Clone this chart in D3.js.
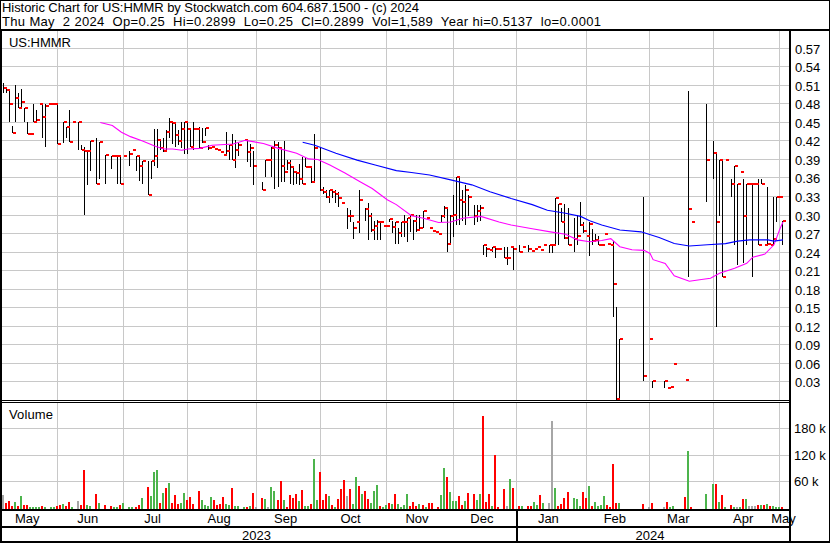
<!DOCTYPE html>
<html><head><meta charset="utf-8">
<script src="https://cdn.jsdelivr.net/npm/d3@7"></script>
<style>
html,body{margin:0;padding:0;background:#fff;}
svg{display:block;font-family:"Liberation Sans",Arial,sans-serif;}
</style></head><body><svg id="c" width="830" height="543"></svg>
<script>
const _ = null;
const headerLines = [
  "Historic Chart for US:HMMR by Stockwatch.com 604.687.1500 - (c) 2024",
  "Thu May  2 2024  Op=0.25  Hi=0.2899  Lo=0.25  Cl=0.2899  Vol=1,589  Year hi=0.5137  lo=0.0001"
];
const symbolLabel = "US:HMMR";
const volumeLabel = "Volume";
const firstDay = new Date(2023, 4, 8), lastDay = new Date(2024, 4, 2);
const priceTicks = [0.03,0.06,0.09,0.12,0.15,0.18,0.21,0.24,0.27,0.30,0.33,0.36,0.39,0.42,0.45,0.48,0.51,0.54,0.57];
const volumeTicksK = [60,120,180];

const closes = [.504,.502,.478,.432,.488,.473,.482,.472,.431,.431,
 .449,.453,.478,.458,.476,.478,.478,.478,.414,_,
 .449,.441,.418,.449,_,.449,.405,.402,.403,.419,
 _,.349,.418,_,.397,_,.394,.394,.394,.349,
 .394,_,.398,.405,.394,.379,.386,_,.332,.386,
 .395,.421,.408,.403,.434,.45,.448,.429,.419,.438,
 .449,.438,.409,.438,.438,.407,.418,.44,.408,.41,
 .406,.404,.401,.397,.403,.412,.388,.405,.412,_,
 .42,.401,.408,.379,_,_,.339,.388,.388,.408,
 .412,.408,.379,.368,.383,.377,.368,.367,.358,.35,
 .377,.377,.353,.408,_,.339,.337,.329,.339,.337,
 .333,.326,.318,_,.298,.298,.279,.288,.324,_,
 .309,.298,.275,.282,.288,.288,.282,.282,.293,.28,
 .288,.27,.288,.288,.294,.299,.289,.275,.279,.305,
 .294,.278,.274,.272,.268,.298,.31,.253,.297,.30,
 .361,.324,.32,.339,.329,_,.298,.306,.31,.25,
 .245,.242,.248,.245,.244,_,.229,.229,.248,.245,
 _,.24,.248,_,.245,.241,.245,.248,.243,.25,
 _,.25,.25,.326,.317,.288,.262,.25,_,.261,
 .266,.283,.273,.266,.285,.257,.258,.251,.251,.268,
 .252,.251,.187,.0001,.098,_,_,_,_,_,
 _,_,.039,_,.098,.03,_,_,_,.03,
 .02,.021,.058,_,_,_,.033,.309,.288,_,
 _,_,_,.388,_,.399,.288,.388,.199,.388,
 _,.349,.379,.349,.369,.298,.349,.349,.349,.349,
 .25,.349,.25,.252,.25,.26,.329,.329,.2899];

const highs = [.513,.505,.502,.443,.51,.497,.503,.473,.449,_,
 .479,.469,_,.478,.478,_,_,_,.478,_,
 .449,.441,.469,_,_,.449,.413,.409,.405,.419,
 _,.424,.418,_,.397,_,.394,_,.394,.394,
 _,_,.402,_,.394,.394,.386,_,.386,.386,
 .438,.439,.422,.423,.436,.456,.45,.45,.436,.45,
 .45,.449,.438,.449,_,.442,.44,.44,.412,_,
 _,_,_,_,.434,.412,.431,.42,.415,_,
 _,.419,.414,.403,_,_,.352,.388,_,.41,
 .419,.418,.406,.419,.388,.389,.377,.369,.381,.393,
 .392,_,.377,.43,_,.41,.345,.34,.34,.34,
 .34,.336,_,_,.31,.307,.288,_,.34,_,
 .31,.318,.302,.29,.291,.288,_,_,.293,.29,
 .288,.278,.288,.299,.294,.299,.291,.299,.299,.305,
 _,_,_,_,_,.299,.313,.31,.30,.332,
 .361,.361,.34,.348,.332,_,.316,.316,.316,.25,
 .248,_,.248,.248,_,_,.248,.248,_,.248,
 _,.25,_,_,.25,_,_,_,_,_,
 _,.25,.25,.327,.317,.31,.317,.31,_,.294,
 .3,.321,.288,_,.288,.277,.268,.266,_,_,
 _,_,.257,.15,.098,_,_,_,_,_,
 _,_,.329,_,_,.03,_,_,_,.03,
 _,_,_,_,_,_,_,.50,_,_,
 _,_,_,.479,_,.419,.399,.388,.388,_,
 _,.358,.379,.349,_,.358,.349,_,.349,_,
 .358,.358,_,.345,_,.329,.329,_,.2899];

const lows = [.497,.497,.449,.432,.449,.472,.473,.449,.431,_,
 .449,.452,_,.423,.409,_,_,_,.414,_,
 .416,.424,.418,_,_,.405,.405,.30,.348,.37,
 _,.349,.357,_,.349,_,.373,_,.349,.349,
 _,_,.378,_,.37,.355,.349,_,.332,.357,
 .378,.375,.405,.401,.401,.424,.414,.41,.412,.408,
 .398,.398,.409,.405,_,.407,.415,.427,.405,_,
 _,_,_,_,.396,.389,.388,.375,.394,_,
 _,.385,.377,.348,_,_,.339,.36,_,.361,
 .341,.345,.353,.353,.372,.35,.348,.35,.348,.35,
 .377,_,.351,.353,_,.338,.334,.326,.318,.326,
 .318,.312,_,_,.277,.288,.26,_,.27,_,
 .29,.259,.271,.259,.259,.259,_,_,.288,.27,
 .253,.253,.264,.264,.256,.272,.258,.272,.275,.278,
 _,_,_,_,_,.288,.294,.24,.25,.264,
 .283,.283,.29,.283,.297,_,.283,.288,.29,.234,
 .232,_,.24,.229,_,_,.229,.218,_,.21,
 _,.24,_,_,.24,_,_,_,_,_,
 _,.237,.237,.25,.25,.288,.26,.25,_,.24,
 .25,.281,.27,_,.233,.251,.255,.251,_,_,
 _,_,.134,.0001,.0001,_,_,_,_,_,
 _,_,.03,_,_,.02,_,_,_,.02,
 _,_,_,_,_,_,_,.199,_,_,
 _,_,_,.321,_,.358,.118,.298,.199,_,
 _,.329,.251,.218,_,.221,.251,_,.199,_,
 .25,.349,_,.251,_,.25,.288,_,.25];

const volumeK = [29,11.2,14.9,3,12.6,3,26,6.7,6.7,1.5,
 1.5,1.5,1.5,3.7,1.5,_,1.5,1.5,3.7,6.7,
 8.9,3,13.4,1.5,_,14.9,6.7,84.7,6.7,3,
 _,31.2,11.2,_,6.7,_,3.7,1.5,1.5,6.7,
 11.2,_,1.5,1.5,1.5,6.7,22.3,_,46.1,25.3,
 81.7,84.7,11.2,33.5,44.6,55,11.2,27.5,8.9,11.2,
 33.5,17.8,23.8,8.9,_,37.9,16.4,6.7,3,23.8,
 16.4,6.7,8.9,23.8,8.9,6.7,44.6,3,3.7,_,
 1.5,1.5,3.7,33.5,1.5,_,22.3,20.1,1.5,46.1,
 37.9,17.8,59.5,17.8,1.5,27.5,21.6,31.2,14.9,39.4,
 3.7,3.7,8.9,109.3,17.8,80.3,17.8,31.2,26,6.7,
 1.5,20.1,42.4,62.5,26.8,42.4,8.9,68.4,49.1,31.2,
 37.9,19.3,10.4,37.9,51.3,3.7,1.5,6.7,11.2,8.9,
 31.2,8.9,1.5,6.7,31.2,3.7,13.4,3.7,8.9,6.7,
 1.5,11.2,11.2,_,1.5,29,90.7,68.4,35.7,14.9,
 14.9,26.8,6.7,14.9,33.5,_,31.2,17.8,31.2,207.4,
 13.4,31.2,3.7,118.2,1.5,_,42.4,3.7,63.9,44.6,
 _,3.7,3.7,_,3.7,3.7,12.6,6.7,29,11.2,
 _,11.2,196.3,44.6,4.5,8.9,21.6,35.7,_,22.3,
 20.1,3.7,35.7,22.3,49.1,3,13.4,3.7,6.7,26.8,
 6.7,1.5,98,11.2,11.2,_,_,_,_,_,
 _,_,8.9,_,1.5,11.2,_,_,_,1.5,
 12.6,1.5,3.7,_,_,_,23.8,127.6,1.5,_,
 _,_,_,31.2,_,53.5,53.5,12.6,29,1.5,
 _,6.7,1.5,1.5,1.5,19.3,19.3,3.7,3.7,3.7,
 6.7,6.7,6.7,8.9,3.7,3.7,1.5,1.5,1.589];

// 1 = close up, -1 = close down, 0 = unchanged
const volumeDir = [0,-1,-1,-1,1,-1,1,-1,-1,1,
 1,1,1,-1,1,_,1,1,-1,-1,
 1,-1,-1,1,_,0,-1,-1,1,1,
 _,-1,1,_,-1,_,-1,1,1,-1,
 1,_,1,1,-1,-1,1,_,-1,1,
 1,1,-1,1,-1,1,-1,-1,-1,1,
 1,-1,-1,-1,_,-1,1,1,1,1,
 -1,-1,-1,-1,1,1,-1,1,1,_,
 1,-1,1,-1,0,_,-1,1,0,1,
 1,-1,-1,1,-1,-1,-1,-1,1,-1,
 1,1,-1,1,1,-1,-1,-1,1,-1,
 1,-1,-1,-1,0,-1,1,1,-1,1,
 -1,-1,1,1,1,-1,1,1,-1,1,
 -1,1,1,1,1,-1,-1,-1,1,-1,
 1,-1,-1,_,-1,1,1,-1,1,1,
 1,-1,-1,1,-1,_,-1,1,1,-1,
 -1,-1,1,-1,-1,_,-1,0,1,-1,
 _,-1,1,_,-1,-1,1,1,-1,1,
 _,0,0,1,-1,-1,-1,-1,_,1,
 1,1,-1,-1,1,-1,1,1,1,1,
 -1,-1,-1,-1,1,_,_,_,_,_,
 _,_,-1,_,0,-1,_,_,_,0,
 -1,1,1,_,_,_,-1,1,-1,_,
 _,_,_,1,_,1,-1,1,-1,1,
 _,-1,1,0,1,-1,1,0,0,0,
 -1,1,-1,1,-1,1,1,1,-1];

// moving averages (day index, value)
const maShortDay = [32,36,39,42,46,50,53,56,59,61,65,69,76,80,86,91,97,101,104,108,113,118,122,127,130,135,139,144,148,152,158,164,168,175,181,186,190,194,198,201,204,208,212,214,215,219,222,227,231,234,237,242,246,248,252,255,257,258];
const maShortVal = [.449,.444,.433,.426,.419,.411,.406,.406,.404,.406,.407,.412,.414,.42,.415,.407,.399,.39,.389,.38,.367,.353,.342,.324,.316,.298,.294,.287,.288,.294,.297,.288,.283,.277,.272,.268,.259,.256,.258,.261,.248,.243,.242,.237,.227,.221,.201,.192,.195,.197,.205,.213,.221,.231,.236,.251,.277,.288];
const maLongDay = [99,103,110,117,123,130,135,141,148,155,161,168,175,180,186,191,194,198,204,211,217,222,227,233,239,243,247,253,255,258];
const maLongVal = [.417,.412,.399,.388,.38,.371,.368,.364,.356,.348,.337,.326,.316,.307,.302,.297,.29,.283,.275,.272,.263,.253,.249,.251,.253,.257,.259,.259,.257,.259];

// ---------------- drawing ----------------
const W = 830, H = 543;
const PL = 2, PR = 789, PT = 31, PB = 400, VT = 403, VB = 509;
const svg = d3.select("#c");
svg.append("rect").attr("width", W).attr("height", H).attr("fill", "#fff");

const days = d3.timeDay.range(firstDay, d3.timeDay.offset(lastDay, 1)).filter(d => d.getDay() > 0 && d.getDay() < 6);
const N = days.length;
const x = d3.scaleLinear().domain([0, N - 1]).range([2.6, 782]);
const y = d3.scaleLinear().domain([0, 0.57]).range([400, 47.6]);
const yv = d3.scaleLinear().domain([0, 180]).range([507.5, 428.3]);
const px = i => Math.round(x(i));

// month starts
const monthIdx = [];
days.forEach((d, i) => { if (i === 0 || d.getMonth() !== days[i - 1].getMonth()) monthIdx.push(i); });
const grid = svg.append("g").attr("stroke", "#c8c8c8").attr("stroke-width", 1).attr("shape-rendering", "crispEdges");
grid.selectAll(".hg").data(priceTicks).join("line")
  .attr("x1", PL).attr("x2", PR).attr("y1", d => Math.round(y(d)) + 0.5).attr("y2", d => Math.round(y(d)) + 0.5);
grid.selectAll(".vg").data(volumeTicksK).join("line").attr("class", "vg")
  .attr("x1", PL).attr("x2", PR).attr("y1", d => Math.round(yv(d)) + 0.5).attr("y2", d => Math.round(yv(d)) + 0.5);
const mStarts = monthIdx.filter(i => i > 0);
grid.selectAll(".mg1").data(mStarts).join("line").attr("class", "mg1")
  .attr("x1", i => px(i) + 0.5).attr("x2", i => px(i) + 0.5).attr("y1", PT).attr("y2", PB);
grid.selectAll(".mg2").data(mStarts).join("line").attr("class", "mg2")
  .attr("x1", i => px(i) + 0.5).attr("x2", i => px(i) + 0.5).attr("y1", VT).attr("y2", VB);

// volume bars
const volColor = d => d === 1 ? "#4cb44c" : d === -1 ? "#ff0000" : "#a6a6a6";
const volData = volumeK.map((v, i) => ({ i, v, dir: volumeDir[i] })).filter(d => d.v !== null);
svg.append("g").attr("shape-rendering", "crispEdges").selectAll("rect").data(volData).join("rect")
  .attr("x", d => px(d.i) - 1).attr("width", 2)
  .attr("y", d => Math.min(Math.round(yv(d.v)), VB - 1)).attr("height", d => VB - Math.min(Math.round(yv(d.v)), VB - 1))
  .attr("fill", d => volColor(d.dir));

// price bars
const bars = closes.map((c, i) => ({ i, c, h: highs[i], l: lows[i] })).filter(d => d.c !== null);
const gb = svg.append("g").attr("shape-rendering", "crispEdges");
gb.selectAll("line").data(bars.filter(d => d.h !== null)).join("line")
  .attr("x1", d => px(d.i) + 0.5).attr("x2", d => px(d.i) + 0.5)
  .attr("y1", d => Math.round(y(d.h))).attr("y2", d => Math.max(Math.round(y(d.l)), Math.round(y(d.h)) + 1))
  .attr("stroke", "#000").attr("stroke-width", 1);

// moving averages
const line = d3.line().x(d => x(d[0]) + 1).y(d => y(d[1]));
svg.append("path").datum(maShortDay.map((d, k) => [d, maShortVal[k]]))
  .attr("d", line).attr("fill", "none").attr("stroke", "#ff00ff").attr("stroke-width", 1.1);
svg.append("path").datum(maLongDay.map((d, k) => [d, maLongVal[k]]))
  .attr("d", line).attr("fill", "none").attr("stroke", "#0000ff").attr("stroke-width", 1.1);

// close ticks
gb.append("g").selectAll("rect").data(bars).join("rect")
  .attr("x", d => px(d.i) + 1).attr("width", 3)
  .attr("y", d => Math.min(Math.round(y(d.c)) - 1, PB - 2)).attr("height", 2)
  .attr("fill", "#ff0000");

// frame lines
const fr = svg.append("g").attr("fill", "#000").attr("shape-rendering", "crispEdges");
fr.append("rect").attr("x", 0).attr("y", 29).attr("width", W).attr("height", 2);
fr.append("rect").attr("x", 0).attr("y", 29).attr("width", 2).attr("height", H - 29);
fr.append("rect").attr("x", 0).attr("y", 400).attr("width", PR).attr("height", 1);
fr.append("rect").attr("x", 0).attr("y", 402).attr("width", PR).attr("height", 1);
fr.append("rect").attr("x", 0).attr("y", 509).attr("width", PR).attr("height", 2);
fr.append("rect").attr("x", 0).attr("y", 526).attr("width", PR).attr("height", 2);
fr.append("rect").attr("x", 0).attr("y", 541).attr("width", W).attr("height", 2);
fr.append("rect").attr("x", PR).attr("y", 29).attr("width", 2).attr("height", H - 29);
const jan = monthIdx.find(i => days[i].getMonth() === 0);
fr.append("rect").attr("x", px(jan)).attr("y", 509).attr("width", 2).attr("height", 33);
svg.append("rect").attr("x", 0.5).attr("y", 0.5).attr("width", W - 1).attr("height", H - 1)
  .attr("fill", "none").attr("stroke", "#000").attr("shape-rendering", "crispEdges");

// texts
const headerWidths = [417, 599];
const t = svg.append("g").attr("font-size", 13).attr("fill", "#000");
t.selectAll(".hd").data(headerLines).join("text").attr("class", "hd")
  .attr("x", 2).attr("y", (d, k) => 11.5 + k * 14.2).style("white-space", "pre").attr("xml:space", "preserve")
  .attr("textLength", (d, k) => headerWidths[k]).attr("lengthAdjust", "spacing").text(d => d);
t.append("text").attr("x", 9).attr("y", 46.5).attr("textLength", 62).attr("lengthAdjust", "spacing").text(symbolLabel);
t.append("text").attr("x", 9).attr("y", 418.5).attr("textLength", 44).attr("lengthAdjust", "spacing").text(volumeLabel);
t.selectAll(".pl").data(priceTicks).join("text").attr("class", "pl")
  .attr("x", 795).attr("y", d => Math.round(y(d)) + 5.5).text(d => d.toFixed(2));
t.selectAll(".vl").data(volumeTicksK).join("text").attr("class", "vl")
  .attr("x", 794).attr("y", d => Math.round(yv(d)) + 5).text(d => d + " k");
const fmt = d3.timeFormat("%b");
const monthLabels = monthIdx.map((s, k) => {
  const e = k + 1 < monthIdx.length ? monthIdx[k + 1] - 1 : N - 1;
  return { s, e, label: fmt(days[s]) };
});
t.selectAll(".ml").data(monthLabels).join("text").attr("class", "ml")
  .attr("text-anchor", "middle").attr("x", d => (x(d.s) + x(d.e)) / 2 - 1 + (d.e - d.s < 4 ? 4 : 0)).attr("y", 523.3).text(d => d.label);
const years = [{ a: PL, b: px(jan), label: String(days[0].getFullYear()) }, { a: px(jan), b: PR, label: String(days[N - 1].getFullYear()) }];
t.selectAll(".yl").data(years).join("text").attr("class", "yl")
  .attr("text-anchor", "middle").attr("x", d => (d.a + d.b) / 2 - 2.5).attr("y", 539.5).text(d => d.label);
</script></body></html>
